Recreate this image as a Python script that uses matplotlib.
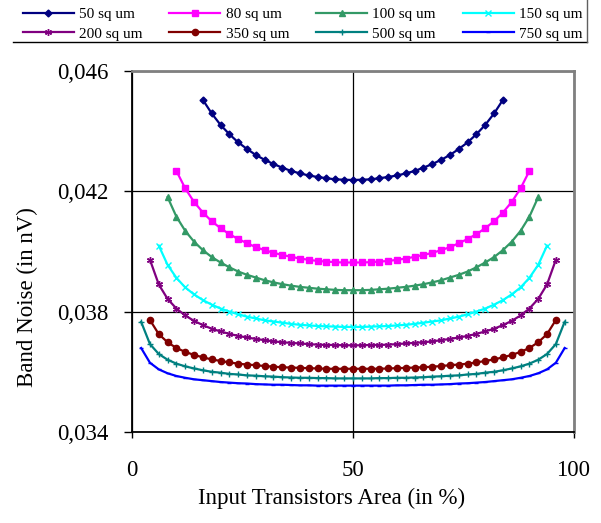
import matplotlib
matplotlib.use('Agg')
import matplotlib.pyplot as plt
import matplotlib.ticker as mticker
from matplotlib.lines import Line2D
import numpy as np

plt.rcParams['font.family'] = ['Liberation Serif', 'DejaVu Serif']

# ---- data ----
labels = ['50 sq um', '80 sq um', '100 sq um', '150 sq um',
          '200 sq um', '350 sq um', '500 sq um', '750 sq um']

x_50 = np.arange(16, 85, 2)
n_50 = [0.04503, 0.04458, 0.04420, 0.04389, 0.04362, 0.04340, 0.04320, 0.04304, 0.04290,
        0.04278, 0.04267, 0.04259, 0.04252, 0.04247, 0.04243, 0.04239, 0.04238, 0.04237,
        0.04238, 0.04239, 0.04243, 0.04247, 0.04252, 0.04259, 0.04267, 0.04278, 0.04290,
        0.04304, 0.04320, 0.04340, 0.04362, 0.04389, 0.04420, 0.04458, 0.04503]

x_80 = np.arange(10, 91, 2)
n_80 = [0.04267, 0.04209, 0.04164, 0.04129, 0.04100, 0.04077, 0.04057, 0.04041, 0.04027,
        0.04014, 0.04004, 0.03995, 0.03988, 0.03982, 0.03976, 0.03972, 0.03968, 0.03966,
        0.03964, 0.03963, 0.03963, 0.03963, 0.03964, 0.03966, 0.03968, 0.03972, 0.03976,
        0.03982, 0.03988, 0.03995, 0.04004, 0.04014, 0.04027, 0.04041, 0.04057, 0.04077,
        0.04100, 0.04129, 0.04164, 0.04209, 0.04267]

x_100 = np.arange(8, 93, 2)
n_100 = [0.04180, 0.04115, 0.04068, 0.04032, 0.04004, 0.03981, 0.03963, 0.03947, 0.03933,
         0.03922, 0.03913, 0.03904, 0.03897, 0.03891, 0.03886, 0.03882, 0.03879, 0.03876,
         0.03874, 0.03872, 0.03871, 0.03871, 0.03871, 0.03872, 0.03874, 0.03876, 0.03879,
         0.03882, 0.03886, 0.03891, 0.03897, 0.03904, 0.03913, 0.03922, 0.03933, 0.03947,
         0.03963, 0.03981, 0.04004, 0.04032, 0.04068, 0.04115, 0.04180]

x_150 = np.arange(6, 95, 2)
n_150 = [0.04019, 0.03955, 0.03912, 0.03880, 0.03857, 0.03838, 0.03823, 0.03810, 0.03800,
         0.03791, 0.03783, 0.03777, 0.03771, 0.03767, 0.03763, 0.03759, 0.03756, 0.03754,
         0.03752, 0.03751, 0.03750, 0.03749, 0.03749, 0.03749, 0.03750, 0.03751, 0.03752,
         0.03754, 0.03756, 0.03759, 0.03763, 0.03767, 0.03771, 0.03777, 0.03783, 0.03791,
         0.03800, 0.03810, 0.03823, 0.03838, 0.03857, 0.03880, 0.03912, 0.03955, 0.04019]

x_200 = np.arange(4, 97, 2)
n_200 = [0.03972, 0.03890, 0.03842, 0.03810, 0.03787, 0.03769, 0.03755, 0.03743, 0.03734,
         0.03726, 0.03719, 0.03714, 0.03709, 0.03705, 0.03701, 0.03698, 0.03696, 0.03694,
         0.03692, 0.03690, 0.03689, 0.03689, 0.03688, 0.03688, 0.03688, 0.03689, 0.03689,
         0.03690, 0.03692, 0.03694, 0.03696, 0.03698, 0.03701, 0.03705, 0.03709, 0.03714,
         0.03719, 0.03726, 0.03734, 0.03743, 0.03755, 0.03769, 0.03787, 0.03810, 0.03842,
         0.03890, 0.03972]

x_350 = np.arange(4, 97, 2)
n_350 = [0.03772, 0.03725, 0.03698, 0.03679, 0.03666, 0.03656, 0.03648, 0.03641, 0.03636,
         0.03631, 0.03627, 0.03624, 0.03622, 0.03619, 0.03617, 0.03615, 0.03614, 0.03613,
         0.03612, 0.03611, 0.03610, 0.03610, 0.03610, 0.03610, 0.03610, 0.03610, 0.03610,
         0.03611, 0.03612, 0.03613, 0.03614, 0.03615, 0.03617, 0.03619, 0.03622, 0.03624,
         0.03627, 0.03631, 0.03636, 0.03641, 0.03648, 0.03656, 0.03666, 0.03679, 0.03698,
         0.03725, 0.03772]

x_500 = np.arange(2, 99, 2)
n_500 = [0.03766, 0.03692, 0.03659, 0.03640, 0.03627, 0.03618, 0.03611, 0.03605, 0.03600,
         0.03597, 0.03593, 0.03591, 0.03588, 0.03587, 0.03585, 0.03584, 0.03582, 0.03581,
         0.03580, 0.03580, 0.03579, 0.03579, 0.03578, 0.03578, 0.03578, 0.03578, 0.03578,
         0.03579, 0.03579, 0.03580, 0.03580, 0.03581, 0.03582, 0.03584, 0.03585, 0.03587,
         0.03588, 0.03591, 0.03593, 0.03597, 0.03600, 0.03605, 0.03611, 0.03618, 0.03627,
         0.03640, 0.03659, 0.03692, 0.03766]

x_750 = np.arange(2, 99, 2)
n_750 = [0.03679, 0.03630, 0.03608, 0.03595, 0.03586, 0.03580, 0.03575, 0.03572, 0.03569,
         0.03566, 0.03564, 0.03562, 0.03561, 0.03559, 0.03558, 0.03557, 0.03557, 0.03556,
         0.03555, 0.03555, 0.03554, 0.03554, 0.03554, 0.03554, 0.03554, 0.03554, 0.03554,
         0.03554, 0.03554, 0.03555, 0.03555, 0.03556, 0.03557, 0.03557, 0.03558, 0.03559,
         0.03561, 0.03562, 0.03564, 0.03566, 0.03569, 0.03572, 0.03575, 0.03580, 0.03586,
         0.03595, 0.03608, 0.03630, 0.03679]

series = [(x_50, n_50), (x_80, n_80), (x_100, n_100), (x_150, n_150),
          (x_200, n_200), (x_350, n_350), (x_500, n_500), (x_750, n_750)]
colors = ['#000080', '#ff00ff', '#339966', '#00ffff',
          '#800080', '#800000', '#008080', '#0000ff']
markers = ['D', 's', '^', 'x', (6, 2, 0), 'o', '+', '_']
msizes = [3.5, 4.5, 4.5, 4.5, 5, 4.5, 5, 3]

W, H = 601, 523
fig = plt.figure(figsize=(W / 100, H / 100), dpi=100)
ax = fig.add_axes([132.3 / W, 1 - 432 / H, (573.5 - 132.3) / W, (432 - 70.7) / H])

handles = []
for (xs, ns), c, m, ms, lab in zip(series, colors, markers, msizes, labels):
    h, = ax.plot(xs, ns, color=c, lw=1.6, marker=m, markersize=ms,
                 markeredgewidth=1.0, label=lab, zorder=3)
    handles.append(h)

ax.set_xlim(0, 100)
ax.set_ylim(0.034, 0.046)
ax.set_xticks([0, 50, 100])
ax.set_yticks([0.034, 0.038, 0.042, 0.046])
ax.yaxis.set_major_formatter(mticker.FuncFormatter(lambda v, _: f'{v:.3f}'.replace('.', ',')))
ax.grid(True, color='black', lw=0.9)
ax.tick_params(axis='y', direction='out', length=6, width=1, pad=11, labelsize=16.5)
ax.tick_params(axis='x', direction='out', length=4, width=1, pad=16, labelsize=16.5)

for s in ['left', 'bottom']:
    ax.spines[s].set_color('black')
    ax.spines[s].set_linewidth(1.3)
for s in ['top', 'right']:
    ax.spines[s].set_color('#808080')
    ax.spines[s].set_linewidth(2)

fig.text(332 / W, 1 - 498 / H, 'Input Transistors Area (in %)', fontsize=16.5,
         ha='center', va='center')
fig.text(27.5 / W, 1 - 297 / H, 'Band Noise (in nV)', fontsize=16.5,
         ha='center', va='center', rotation=90)

# legend across the top, frame partly off the canvas
order = [0, 4, 1, 5, 2, 6, 3, 7]
fig.legend([handles[i] for i in order], [labels[i] for i in order],
           ncol=4, loc='upper left', bbox_to_anchor=(22.7 / W, 1 - 7.5 / H),
           frameon=False, fontsize=11, handlelength=3.35, handletextpad=0.33,
           columnspacing=1.76, labelspacing=0.37, borderpad=0, borderaxespad=0)
fig.add_artist(Line2D([13 / W, 587 / W], [1 - 41.7 / H, 1 - 41.7 / H],
                      transform=fig.transFigure, color='black', lw=1))
fig.add_artist(Line2D([587 / W, 587 / W], [1 - 41.7 / H, 1],
                      transform=fig.transFigure, color='#606060', lw=1))

fig.savefig('out.png', dpi=100)
